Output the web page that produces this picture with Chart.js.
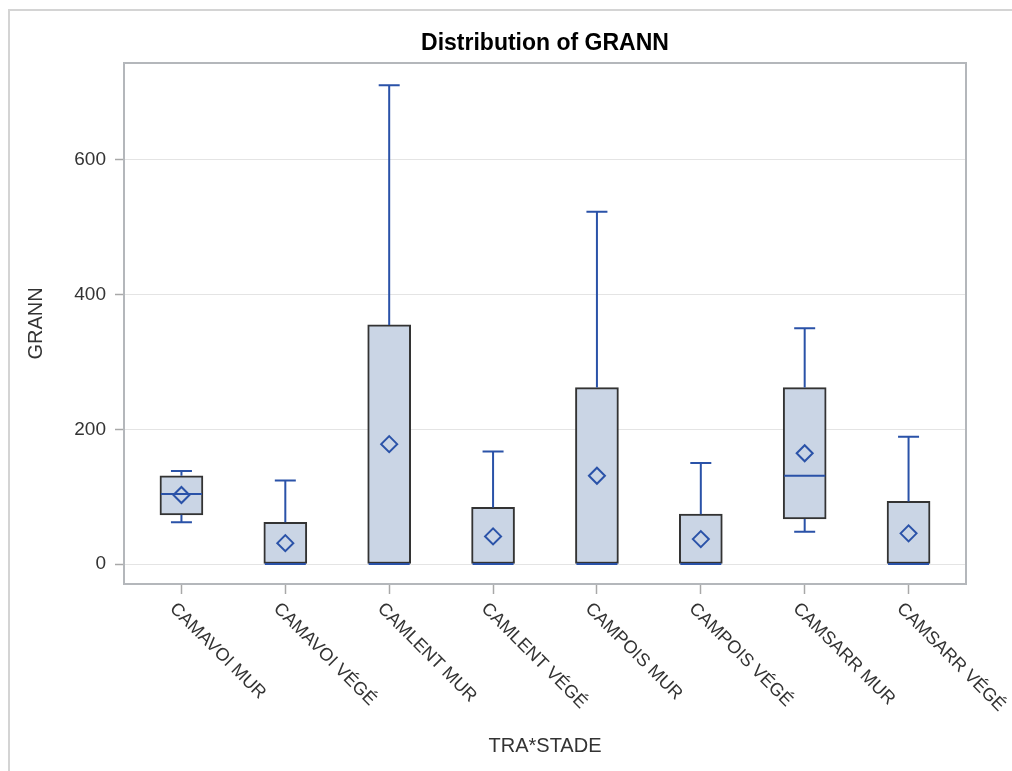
<!DOCTYPE html>
<html>
<head>
<meta charset="utf-8">
<script src="https://cdn.jsdelivr.net/npm/chart.js@4/dist/chart.umd.min.js"></script>
<style>
  html, body { margin: 0; padding: 0; background: #ffffff; }
  #c { display: block; }
</style>
</head>
<body>
<canvas id="c" width="1012" height="771"></canvas>
<script>
// ---- data ----
const categories = ["CAMAVOI MUR", "CAMAVOI VÉGÉ", "CAMLENT MUR", "CAMLENT VÉGÉ",
                    "CAMPOIS MUR", "CAMPOIS VÉGÉ", "CAMSARR MUR", "CAMSARR VÉGÉ"];
const whiskerLow  = [62, 0, 0, 0, 0, 0, 48, 0];
const q1Values    = [73, 0, 0, 0, 0, 0, 67, 0];
const medianVals  = [104, 0, 0, 0, 0, 0, 131, 0];
const q3Values    = [131, 62, 355, 84, 262, 74, 262, 93];
const whiskerHigh = [138, 124, 711, 167, 523, 150, 350, 189];
const meanValues  = [102.5, 31, 178, 41, 131, 37, 164.5, 45.5];
const yTickValues = [0, 200, 400, 600];

const chartTitle = "Distribution of GRANN";
const xTitle = "TRA*STADE";
const yTitle = "GRANN";

// ---- styles ----
const FONT = "'Liberation Sans', Arial, Helvetica, sans-serif";
const BOX_FILL = "#cad5e5";
const BOX_EDGE = "#333333";
const BLUE = "#2a52a8";

Chart.defaults.font.family = FONT;
Chart.defaults.color = "#333333";

const boxData = categories.map((c, i) => ({ x: i, y: [q1Values[i], q3Values[i]] }));
const meanData = categories.map((c, i) => ({ x: i, y: meanValues[i] }));

// outer page border (left & top) and plot frame
const framePlugin = {
  id: "frame",
  beforeDraw(chart) {
    const ctx = chart.ctx;
    ctx.save();
    ctx.strokeStyle = "#d4d4d4";
    ctx.lineWidth = 2;
    ctx.beginPath();
    ctx.moveTo(9, chart.height);
    ctx.lineTo(9, 10);
    ctx.lineTo(chart.width, 10);
    ctx.stroke();
    ctx.restore();
  },
  afterDraw(chart) {
    const { ctx, chartArea: a } = chart;
    ctx.save();
    ctx.strokeStyle = "#b4b7bb";
    ctx.lineWidth = 2;
    ctx.strokeRect(a.left, a.top, a.right - a.left, a.bottom - a.top);
    ctx.restore();
  }
};

// whiskers, caps and medians drawn through the chart scales
const whiskerPlugin = {
  id: "whiskers",
  afterDatasetDraw(chart, args) {
    if (args.index !== 1) return;
    const { ctx, scales: { x, y } } = chart;
    const meta = chart.getDatasetMeta(1);
    ctx.save();
    ctx.strokeStyle = BLUE;
    ctx.lineWidth = 2;
    categories.forEach((c, i) => {
      const px = x.getPixelForValue(i);
      const bar = meta.data[i];
      const half = bar ? bar.width / 2 : 21;
      const capHalf = 10.5;
      const yHi = y.getPixelForValue(whiskerHigh[i]);
      const yQ3 = y.getPixelForValue(q3Values[i]);
      const yQ1 = y.getPixelForValue(q1Values[i]);
      const yLo = y.getPixelForValue(whiskerLow[i]);
      const yMed = y.getPixelForValue(medianVals[i]);
      ctx.beginPath();
      if (whiskerHigh[i] > q3Values[i]) {
        ctx.moveTo(px, yQ3); ctx.lineTo(px, yHi);
        ctx.moveTo(px - capHalf, yHi); ctx.lineTo(px + capHalf, yHi);
      }
      if (whiskerLow[i] < q1Values[i]) {
        ctx.moveTo(px, yQ1); ctx.lineTo(px, yLo);
        ctx.moveTo(px - capHalf, yLo); ctx.lineTo(px + capHalf, yLo);
      }
      ctx.moveTo(px - half + 1, yMed); ctx.lineTo(px + half - 1, yMed);
      ctx.stroke();
    });
    ctx.restore();
  }
};

// rotated (clockwise) category labels under the axis
const xLabelPlugin = {
  id: "xlabels",
  afterDraw(chart) {
    const { ctx, scales: { x } } = chart;
    ctx.save();
    ctx.font = "18px " + FONT;
    ctx.fillStyle = "#333333";
    ctx.textAlign = "left";
    ctx.textBaseline = "middle";
    categories.forEach((c, i) => {
      const px = x.getPixelForValue(i);
      ctx.save();
      ctx.translate(px - 9, chart.chartArea.bottom + 22);
      ctx.rotate(Math.PI / 4);
      ctx.fillText(c, 0, 0);
      ctx.restore();
    });
    ctx.restore();
  }
};

new Chart(document.getElementById("c"), {
  type: "bar",
  data: {
    datasets: [
      {
        type: "line",
        label: "Mean",
        data: meanData,
        showLine: false,
        pointStyle: "rectRot",
        pointRadius: 8,
        pointBorderWidth: 2,
        pointBorderColor: BLUE,
        pointBackgroundColor: "rgba(0,0,0,0)",
        order: 1
      },
      {
        type: "bar",
        label: "Box",
        data: boxData,
        backgroundColor: BOX_FILL,
        borderColor: BOX_EDGE,
        borderWidth: 2,
        borderSkipped: false,
        barThickness: 43,
        order: 2
      }
    ]
  },
  options: {
    responsive: false,
    animation: false,
    devicePixelRatio: 1,
    layout: { padding: { left: 0, right: 46, top: 0, bottom: 0 } },
    plugins: {
      legend: { display: false },
      tooltip: { enabled: false },
      title: {
        display: true,
        text: chartTitle,
        fullSize: false,
        color: "#000000",
        font: { size: 23, weight: "bold", family: FONT },
        padding: { top: 30, bottom: 5.4 }
      }
    },
    scales: {
      x: {
        type: "linear",
        offset: false,
        min: -0.553,
        max: 7.553,
        afterBuildTicks(scale) { scale.ticks = categories.map((c, i) => ({ value: i })); },
        afterFit(scale) { scale.height = 187; },
        ticks: { display: false },
        grid: { offset: false, drawOnChartArea: false, drawTicks: true, tickLength: 10, tickColor: "#a8a8a8", tickWidth: 1.5 },
        border: { display: false },
        title: {
          display: true,
          text: xTitle,
          color: "#333333",
          font: { size: 20, family: FONT },
          padding: { top: 0, bottom: 13 }
        }
      },
      y: {
        type: "linear",
        min: -29.7,
        max: 744,
        afterBuildTicks(scale) { scale.ticks = yTickValues.map(v => ({ value: v })); },
        afterFit(scale) { scale.width = 124; },
        ticks: { color: "#333333", font: { size: 19, family: FONT }, padding: 9 },
        grid: { color: "#e4e4e4", lineWidth: 1, tickLength: 9, tickColor: "#a8a8a8", tickWidth: 1.5 },
        border: { display: false },
        title: {
          display: true,
          text: yTitle,
          color: "#333333",
          font: { size: 20, family: FONT },
          padding: { top: 24, bottom: 0 }
        }
      }
    }
  },
  plugins: [framePlugin, whiskerPlugin, xLabelPlugin]
});
</script>
</body>
</html>
